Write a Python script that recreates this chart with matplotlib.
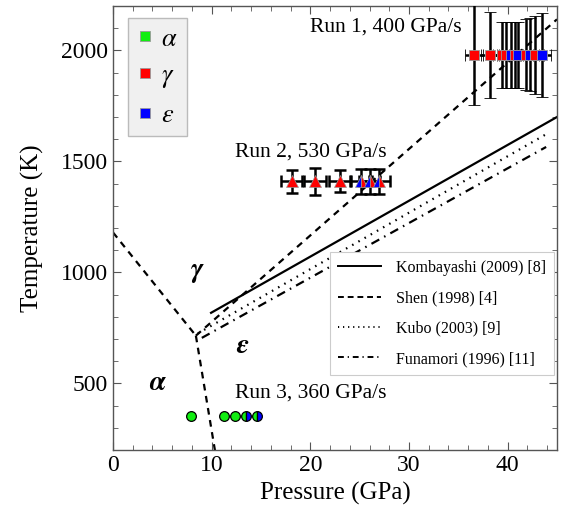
import matplotlib
matplotlib.use("Agg")
import matplotlib.pyplot as plt
from matplotlib.lines import Line2D
import numpy as np

plt.rcParams['font.family'] = ['Liberation Serif', 'DejaVu Serif']
plt.rcParams['mathtext.fontset'] = 'stix'

# ---- data ----
# Run 1 (400 GPa/s), T ~ 1980 K
run1_P = [36.6, 38.2, 39.4, 39.8, 40.3, 40.7, 41.0, 41.9, 42.3, 42.8, 43.5]
run1_T = [1980] * 11
run1_Perr = [0.9] * 11
run1_Terr = [225, 195, 148, 148, 148, 148, 148, 160, 165, 175, 190]
run1_col = ['red', 'red', 'red', 'red', 'blue', 'red', 'blue', 'red', 'blue', 'red', 'blue']

# Run 2 (530 GPa/s), T ~ 1400 K
run2_P = [18.1, 20.5, 23.0, 25.1, 26.0, 27.0]
run2_T = [1410] * 6
run2_Perr = [1.1] * 6
run2_Terr = [52, 62, 50, 55, 55, 55]
run2_mixed = [False, False, False, True, True, True]

# Run 3 (360 GPa/s), T ~ 350 K
run3_P = [7.9, 11.3, 12.4, 13.5, 14.6]
run3_T = [355] * 5
run3_mixed = [False, False, False, True, True]

# Phase boundaries
shen_ag_P = [0.0, 8.4]
shen_ag_T = [1180, 715]
shen_ae_P = [8.4, 10.4]
shen_ae_T = [715, 180]
shen_ge_P = [8.4, 45.0]
shen_ge_T = [715, 2140]
komb_P = [9.94, 45.0]
komb_T = [818, 1700]
kubo_P = [8.6, 44.0]
kubo_T = [725, 1625]
funa_P = [9.0, 43.9]
funa_T = [705, 1565]

fig = plt.figure(figsize=(5.67, 5.19), dpi=100)
ax = fig.add_axes([113/567, (519-450)/519, (557-113)/567, (450-6)/519])

lw = 1.6
dash = (0, (3, 2.5))
ax.plot(shen_ag_P, shen_ag_T, color='black', lw=lw, ls=dash)
ax.plot(shen_ae_P, shen_ae_T, color='black', lw=lw, ls=dash)
ax.plot(shen_ge_P, shen_ge_T, color='black', lw=lw, ls=dash)
ax.plot(komb_P, komb_T, color='black', lw=lw, ls='-')
ax.plot(kubo_P, kubo_T, color='black', lw=lw, ls=(0, (0.7, 2.5)))
ax.plot(funa_P, funa_T, color='black', lw=lw, ls=(0, (4, 2.5, 0.7, 2.5)))

# Run 1
for p, t, pe, te, c in zip(run1_P, run1_T, run1_Perr, run1_Terr, run1_col):
    ax.errorbar(p, t, xerr=pe, yerr=te, fmt='s', color='black', ecolor='black',
                elinewidth=1.8, capsize=4.5, capthick=1.8, markersize=6.5,
                markerfacecolor=c, markeredgecolor='#999999', markeredgewidth=0.6, zorder=3)
# Run 2
for p, t, pe, te, m in zip(run2_P, run2_T, run2_Perr, run2_Terr, run2_mixed):
    ax.errorbar(p, t, xerr=pe, yerr=te, fmt='none', ecolor='black',
                elinewidth=1.8, capsize=4.5, capthick=1.8, zorder=3)
    if m:
        ax.plot(p, t, marker='^', ms=8.5, color='blue', markerfacecoloralt='red',
                fillstyle='left', markeredgecolor='#999999', markeredgewidth=0.5, zorder=4)
    else:
        ax.plot(p, t, marker='^', ms=8.5, markerfacecolor='red',
                markeredgecolor='#999999', markeredgewidth=0.5, zorder=4)
# Run 3
for p, t, m in zip(run3_P, run3_T, run3_mixed):
    if m:
        ax.plot(p, t, marker='o', ms=7, color='#11ee11', markerfacecoloralt='blue',
                fillstyle='left', markeredgecolor='black', markeredgewidth=0.9, zorder=4)
    else:
        ax.plot(p, t, marker='o', ms=7, markerfacecolor='#11ee11',
                markeredgecolor='black', markeredgewidth=0.9, zorder=4)

# Text annotations
ax.text(20.0, 2105, 'Run 1, 400 GPa/s', fontsize=15.5, va='center', ha='left')
ax.text(12.4, 1542, 'Run 2, 530 GPa/s', fontsize=15.5, va='center', ha='left')
ax.text(12.4, 456, 'Run 3, 360 GPa/s', fontsize=15.5, va='center', ha='left')
ax.text(8.6, 1000, r'$\boldsymbol{\gamma}$', fontsize=20, ha='center', va='center')
ax.text(13.1, 665, r'$\boldsymbol{\epsilon}$', fontsize=20, ha='center', va='center')
ax.text(4.6, 500, r'$\boldsymbol{\alpha}$', fontsize=20, ha='center', va='center')

ax.set_xlim(0, 45)
ax.set_ylim(200, 2200)
ax.set_xticks([0, 10, 20, 30, 40])
ax.set_yticks([500, 1000, 1500, 2000])
ax.set_xticks(np.arange(0, 45, 2), minor=True)
ax.set_yticks(np.arange(200, 2201, 100), minor=True)
ax.tick_params(which='both', direction='in', top=True, right=True, color='#555555')
ax.tick_params(which='major', length=6, width=0.8, labelsize=17)
ax.tick_params(which='minor', length=3.5, width=0.6)
for s in ax.spines.values():
    s.set_color('#555555')
    s.set_linewidth(1.0)
ax.set_xlabel('Pressure (GPa)', fontsize=18, labelpad=4)
ax.set_ylabel('Temperature (K)', fontsize=18, labelpad=12)

# Line legend
lh = [Line2D([], [], color='black', lw=1.4, ls='-'),
      Line2D([], [], color='black', lw=1.4, ls=(0, (3, 2))),
      Line2D([], [], color='black', lw=1.4, ls=(0, (0.6, 2))),
      Line2D([], [], color='black', lw=1.4, ls=(0, (3, 2, 0.6, 2)))]
ll = ['Kombayashi (2009) [8]', 'Shen (1998) [4]', 'Kubo (2003) [9]', 'Funamori (1996) [11]']
leg1 = ax.legend(lh, ll, loc='upper left', bbox_to_anchor=(0.489, 0.446), fontsize=11.5,
                 frameon=True, fancybox=False, edgecolor='#cccccc', framealpha=1,
                 handlelength=2.7, labelspacing=0.9, borderpad=0.5, handletextpad=0.9,
                 borderaxespad=0)
leg1.get_frame().set_linewidth(0.8)
ax.add_artist(leg1)

# Phase legend
ph = [Line2D([], [], marker='s', ls='none', ms=7.5, markerfacecolor=c,
             markeredgecolor='#999999', markeredgewidth=0.6)
      for c in ['#11ee11', 'red', 'blue']]
pl = [r'$\alpha$', r'$\gamma$', r'$\epsilon$']
leg2 = ax.legend(ph, pl, loc='upper left', bbox_to_anchor=(0.034, 0.973), fontsize=19,
                 frameon=True, fancybox=False, edgecolor='#bbbbbb', facecolor='#f0f0f0',
                 framealpha=1, labelspacing=0.5, borderpad=0.35, handletextpad=0.3,
                 handlelength=0.6, borderaxespad=0)
leg2.get_frame().set_linewidth(1.0)

fig.savefig('out.png', dpi=100)
